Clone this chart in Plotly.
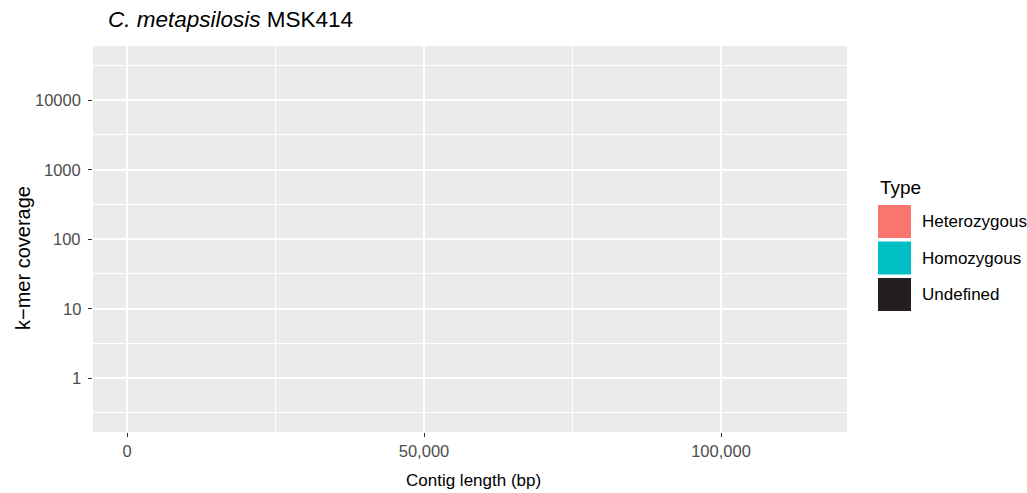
import math
import plotly.graph_objects as go

# ---- data (the reference panel shows no plotted marks) ----
types = ["Heterozygous", "Homozygous", "Undefined"]
type_colors = ["#F8766D", "#00BFC4", "#231F20"]
contig_length = {t: [] for t in types}
kmer_coverage = {t: [] for t in types}

x_ticks = [0, 50000, 100000]
x_tick_labels = ["0", "50,000", "100,000"]
y_ticks = [1, 10, 100, 1000, 10000]
y_tick_labels = ["1", "10", "100", "1000", "10000"]

W, H = 1027, 493
PL, PT, PR, PB = 93, 46, 847, 432          # panel edges in pixels
L, T, R, B = PL, PT, W - PR, H - PB
pw, ph = PR - PL, PB - PT


def px(x):
    return (x - PL) / pw


def py(y):
    return 1 - (y - PT) / ph


FONT = "Liberation Sans, Arial, Helvetica, sans-serif"
TICKFONT = dict(size=16.5, color="#4D4D4D", family=FONT)

fig = go.Figure()
for t, c in zip(types, type_colors):
    fig.add_trace(go.Scatter(x=contig_length[t], y=kmer_coverage[t], mode="markers",
                             name=t, marker=dict(color=c), showlegend=False))

fig.update_layout(
    width=W, height=H,
    margin=dict(l=L, r=R, t=T, b=B, autoexpand=False),
    paper_bgcolor="white", plot_bgcolor="#EBEBEB",
    font=dict(family=FONT),
    showlegend=False,
)

fig.update_xaxes(
    range=[-5724, 121212], tickvals=x_ticks, ticktext=x_tick_labels,
    showgrid=True, gridcolor="white", gridwidth=1.6, zeroline=False,
    ticks="outside", ticklen=4, tickwidth=1.1, tickcolor="#333333",
    tickfont=TICKFONT,
    minor=dict(tickvals=[25000, 75000], showgrid=True, gridcolor="white", gridwidth=0.8, ticks=""),
    showline=False,
)
fig.update_yaxes(
    type="log", range=[-0.777, 4.777], tickvals=y_ticks, ticktext=y_tick_labels,
    showticklabels=False,
    showgrid=True, gridcolor="white", gridwidth=1.6, zeroline=False,
    ticks="outside", ticklen=4, tickwidth=1.1, tickcolor="#333333",
    minor=dict(tickvals=[10 ** (k + 0.5) for k in range(-1, 5)], showgrid=True,
               gridcolor="white", gridwidth=0.8, ticks=""),
    showline=False,
)

# y tick labels placed on the log axis scale
for v, lab in zip(y_ticks, y_tick_labels):
    fig.add_annotation(text=lab, xref="paper", yref="y", x=px(83), y=math.log10(v),
                       xanchor="right", yanchor="middle", showarrow=False,
                       font=TICKFONT)

# axis titles
fig.add_annotation(text="Contig length (bp)", xref="paper", yref="paper",
                   x=px(473), y=py(480), xanchor="center", yanchor="middle",
                   showarrow=False, font=dict(size=17, color="black", family=FONT))
fig.add_annotation(text="k\u2212mer coverage", xref="paper", yref="paper",
                   x=px(23), y=py(258), xanchor="center", yanchor="middle", textangle=-90,
                   showarrow=False, font=dict(size=20, color="black", family=FONT))

# title
fig.add_annotation(text="<i>C. metapsilosis</i> MSK414", xref="paper", yref="paper",
                   x=px(106), y=py(20), xanchor="left", yanchor="middle",
                   showarrow=False, font=dict(size=22.5, color="black", family=FONT))

# manual legend (ggplot-style fill keys)
fig.add_annotation(text="Type", xref="paper", yref="paper", x=px(878), y=py(187),
                   xanchor="left", yanchor="middle", showarrow=False,
                   font=dict(size=19, color="black", family=FONT))
key_top = 205
key_size = 33
for i, (t, c) in enumerate(zip(types, type_colors)):
    y0 = key_top + i * 36.5
    fig.add_shape(type="rect", xref="paper", yref="paper",
                  x0=px(878), x1=px(878 + key_size), y0=py(y0), y1=py(y0 + key_size),
                  fillcolor=c, line=dict(width=0), layer="above")
    fig.add_annotation(text=t, xref="paper", yref="paper", x=px(920), y=py(y0 + key_size / 2),
                       xanchor="left", yanchor="middle", showarrow=False,
                       font=dict(size=17, color="black", family=FONT))

fig.write_html("out.html", config={"displayModeBar": False},
               post_script="document.body.style.margin='0px';document.body.style.overflow='hidden';")
